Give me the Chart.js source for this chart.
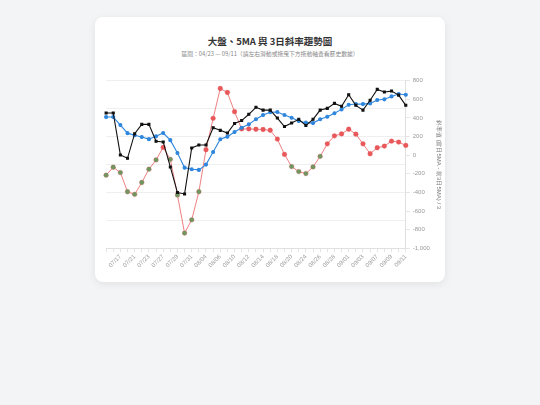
<!DOCTYPE html>
<html>
<head>
<meta charset="utf-8">
<script src="https://cdn.jsdelivr.net/npm/chart.js@4"></script>
<style>
body { margin: 0; background: #f3f4f6; font-family: "Noto Sans CJK TC", "Noto Sans", sans-serif; }
.card { position: absolute; left: 95px; top: 17px; width: 350px; height: 265px; background: #fff;
  border-radius: 8px; box-shadow: 0 2px 8px rgba(0,0,0,0.08); }
.title { position: absolute; left: 0; width: 100%; top: 17px; text-align: center; font-size: 9.5px; font-weight: bold; color: #333; }
.sub { position: absolute; left: 0; width: 100%; top: 32px; text-align: center; font-size: 5.8px; color: #888; }
.wrap { position: absolute; left: 6px; top: 57px; width: 343px; height: 196px; }
</style>
</head>
<body>
<div class="card">
  <div class="title">大盤、5MA 與 3日斜率趨勢圖</div>
  <div class="sub">區間：04/23 — 09/11（請左右滑動或拖曳下方拖動軸查看歷史數據）</div>
  <div class="wrap"><canvas id="trend"></canvas></div>
</div>
<script>
var dates = ["07/15","07/16","07/17","07/20","07/21","07/22","07/23","07/24","07/27","07/28","07/29","07/30","07/31",
  "08/03","08/04","08/05","08/06","08/07","08/10","08/11","08/12","08/13","08/14","08/17","08/18","08/19","08/20","08/21",
  "08/24","08/25","08/26","08/27","08/28","08/31","09/01","09/02","09/03","09/04","09/07","09/08","09/09","09/10","09/11"];
var market = [27680,27680,24680,24440,26200,26870,26870,25660,25610,23820,21990,21890,25180,
  25390,25390,26630,26440,26250,26930,27140,27590,28090,27890,27890,27320,26710,26960,27230,
  26790,27230,27890,28010,28370,28160,28990,28230,27890,28590,29370,29180,29250,28960,28230];
var ma5 = [27390,27390,26820,26240,26090,25960,25810,26010,26250,25740,24820,23770,23660,
  23610,23990,24890,25800,25990,26320,26630,26870,27230,27540,27730,27750,27540,27340,27110,
  26990,26960,27230,27410,27660,27940,28270,28320,28320,28370,28610,28660,28870,29040,28990];
var slope = [-215,-130,-187,-393,-421,-294,-151,-52,83,-45,-428,-837,-694,
  -393,58,395,715,672,466,281,281,278,275,267,172,8,-123,-177,
  -198,-127,-13,121,207,228,278,225,121,15,79,97,150,140,104];

var slopeColors = slope.map(function (v) { return v >= 0 ? '#e8575a' : '#6f9660'; });

new Chart(document.getElementById('trend'), {
  type: 'line',
  data: {
    labels: dates,
    datasets: [{
      label: '大盤',
      data: market,
      yAxisID: 'y',
      borderColor: '#111',
      backgroundColor: '#111',
      borderWidth: 1.1,
      pointRadius: 1.4,
      pointStyle: 'rect',
      tension: 0
    }, {
      label: '5MA',
      data: ma5,
      yAxisID: 'y',
      borderColor: '#2f86dd',
      backgroundColor: '#2f86dd',
      borderWidth: 1.1,
      pointRadius: 1.5,
      tension: 0
    }, {
      label: '3日斜率',
      data: slope,
      yAxisID: 'y1',
      borderColor: 'rgba(232,87,90,0.85)',
      borderWidth: 0.9,
      pointRadius: 2.4,
      pointBackgroundColor: slopeColors,
      pointBorderColor: 'rgba(232,87,90,0.5)',
      pointBorderWidth: 0.5,
      tension: 0
    }]
  },
  options: {
    responsive: true,
    maintainAspectRatio: false,
    animation: false,
    plugins: {
      legend: { display: false },
      tooltip: { enabled: false }
    },
    scales: {
      x: {
        grid: { drawOnChartArea: false, tickLength: 4, color: '#e5e5e5' },
        border: { color: '#e0e0e0' },
        ticks: {
          autoSkip: false,
          maxRotation: 45,
          minRotation: 45,
          color: '#999',
          font: { size: 6 },
          padding: 1,
          callback: function (v, i) { return (i % 2 === 0 && i > 0) ? dates[i] : ''; }
        }
      },
      y: {
        position: 'left',
        min: 18000,
        max: 30000,
        ticks: { display: false, stepSize: 2000 },
        grid: { color: '#efefef', drawTicks: false },
        border: { display: false }
      },
      y1: {
        position: 'right',
        min: -1000,
        max: 800,
        ticks: { stepSize: 200, color: '#999', font: { size: 6 }, padding: 3 },
        grid: { drawOnChartArea: false, tickLength: 4, color: '#e5e5e5' },
        border: { color: '#e0e0e0' },
        title: {
          display: true,
          text: '斜率值 (當日5MA - 前3日5MA) / 3',
          color: '#777',
          font: { size: 6 },
          padding: 2
        }
      }
    }
  }
});
</script>
</body>
</html>
